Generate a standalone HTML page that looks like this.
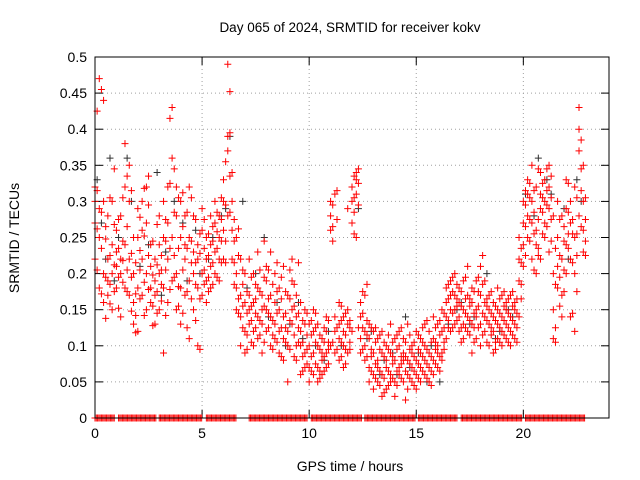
<!DOCTYPE html>
<html>
<head>
<meta charset="utf-8">
<style>
  html,body{margin:0;padding:0;background:#fff;}
  svg{display:block;font-family:"Liberation Sans",sans-serif;}
</style>
</head>
<body>
<svg id="chart" width="640" height="480" viewBox="0 0 640 480">
  <text x="350" y="32" text-anchor="middle" font-size="13.5" fill="#000">Day 065 of 2024, SRMTID for receiver kokv</text>
  <text x="350" y="471" text-anchor="middle" font-size="14" fill="#000">GPS time / hours</text>
  <text transform="translate(19,238) rotate(-90)" text-anchor="middle" font-size="14" fill="#000">SRMTID / TECUs</text>
  <g id="grid"></g>
  <g id="ticks"></g>
  <g id="marks"></g>
  <rect x="95" y="57" width="514" height="361" fill="none" stroke="#000" stroke-width="1"/>
</svg>
<script>
const xTicks = [0, 5, 10, 15, 20];
const yTicks = [0, 0.05, 0.1, 0.15, 0.2, 0.25, 0.3, 0.35, 0.4, 0.45, 0.5];
const yTickLabels = ["0","0.05","0.1","0.15","0.2","0.25","0.3","0.35","0.4","0.45","0.5"];
const redT = [0.0,0.2,0.4,0.6,0.8,1.0,1.2,1.4,1.6,1.8,2.0,2.2,2.4,2.6,2.8,3.0,3.2,3.4,3.6,3.8,4.0,4.2,4.4,4.6,4.8,5.0,5.2,5.4,5.6,5.8,6.0,6.2,6.4,6.6,6.8,7.0,7.2,7.4,7.6,7.8,8.0,8.2,8.4,8.6,8.8,9.0,9.2,9.4,9.6,9.8,10.0,10.2,10.4,10.6,10.8,11.0,11.2,11.4,11.6,11.8,12.0,12.2,12.4,12.6,12.8,13.0,13.2,13.4,13.6,13.8,14.0,14.2,14.4,14.6,14.8,15.0,15.2,15.4,15.6,15.8,16.0,16.2,16.4,16.6,16.8,17.0,17.2,17.4,17.6,17.8,18.0,18.2,18.4,18.6,18.8,19.0,19.2,19.4,19.6,19.8,20.0,20.2,20.4,20.6,20.8,21.0,21.2,21.4,21.6,21.8,22.0,22.2,22.4,22.6,22.8];
const redV = [
[.30,.27,.32,.22],[.25,.18,.29,.47],[.16,.20,.44,.30],[.22,.17,.28,.19],[.24,.20,.15,.30],
[.21,.18,.26,.23],[.20,.22,.14,.28],[.32,.24,.18,.38],[.30,.17,.22,.35],[.16,.13,.20,.25],
[.12,.18,.25,.29],[.22,.30,.17,.26],[.32,.27,.20,.15],[.18,.21,.16,.24],[.19,.13,.22,.17],
[.28,.20,.15,.24],[.30,.25,.09,.18],[.22,.16,.27,.32],[.36,.43,.25,.19],[.20,.32,.15,.28],
[.25,.18,.13,.30],[.22,.17,.28,.24],[.19,.11,.25,.32],[.15,.23,.28,.20],[.10,.18,.24,.22],
[.20,.26,.17,.29],[.22,.16,.25,.19],[.24,.28,.21,.18],[.20,.27,.23,.30],[.25,.19,.28,.22],
[.26,.22,.33,.30],[.49,.39,.37,.28],[.34,.30,.22,.26],[.20,.25,.18,.15],[.14,.10,.22,.17],
[.12,.16,.20,.09],[.17,.13,.22,.15],[.12,.20,.10,.16],[.18,.14,.11,.23],[.13,.17,.09,.15],
[.12,.19,.15,.21],[.10,.14,.17,.23],[.13,.11,.16,.20],[.09,.15,.18,.12],[.14,.11,.21,.08],
[.12,.17,.10,.05],[.15,.19,.13,.22],[.10,.14,.08,.17],[.06,.12,.16,.10],[.13,.09,.07,.15],
[.10,.07,.13,.05],[.09,.12,.06,.15],[.07,.10,.05,.13],[.08,.11,.06,.09],[.12,.09,.07,.14],
[.28,.26,.30,.10],[.31,.14,.12,.09],[.11,.08,.13,.16],[.14,.10,.07,.12],[.13,.29,.09,.15],
[.32,.30,.27,.12],[.34,.31,.33,.25],[.14,.11,.09,.16],[.17,.12,.08,.10],[.11,.13,.07,.05],
[.09,.06,.12,.04],[.08,.05,.11,.07],[.03,.09,.06,.12],[.07,.04,.10,.08],[.05,.09,.13,.06],
[.08,.11,.05,.03],[.07,.10,.06,.12],[.09,.05,.11,.08],[.04,.08,.13,.06],[.07,.10,.05,.09],
[.06,.12,.08,.04],[.09,.07,.11,.05],[.10,.06,.13,.08],[.05,.09,.07,.12],[.08,.11,.06,.14],
[.10,.07,.13,.09],[.12,.09,.15,.08],[.18,.14,.11,.16],[.15,.19,.12,.17],[.13,.17,.20,.15],
[.16,.12,.18,.14],[.11,.15,.19,.13],[.17,.14,.21,.12],[.09,.13,.16,.18],[.14,.11,.19,.15],
[.21,.17,.13,.10],[.16,.12,.19,.14],[.13,.10,.17,.15],[.12,.16,.09,.14],[.15,.11,.13,.18],
[.14,.10,.17,.12],[.11,.15,.13,.16],[.17,.12,.14,.10],[.13,.16,.11,.15],[.22,.19,.25,.14],
[.27,.30,.24,.21],[.28,.33,.25,.31],[.30,.22,.35,.27],[.20,.26,.32,.24],[.29,.34,.31,.22],
[.27,.33,.30,.25],[.32,.35,.29,.23],[.20,.11,.28,.15],[.18,.25,.30,.21],[.17,.22,.28,.14],
[.24,.29,.20,.33],[.27,.22,.14,.30],[.12,.25,.32,.20],[.40,.37,.43,.28],[.26,.23,.30,.35]
];
const redT2 = [0.1,0.3,0.5,0.7,0.9,1.1,1.3,1.5,1.7,1.9,2.1,2.3,2.5,2.7,2.9,3.1,3.3,3.5,3.7,3.9,4.1,4.3,4.5,4.7,4.9,5.1,5.3,5.5,5.7,5.9,6.1,6.3,6.5,6.7,6.9,7.1,7.3,7.5,7.7,7.9,8.1,8.3,8.5,8.7,8.9,9.1,9.3,9.5,9.7,9.9,10.1,10.3,10.5,10.7,10.9,11.1,11.3,11.5,11.7,11.9,12.1,12.3,12.5,12.7,12.9,13.1,13.3,13.5,13.7,13.9,14.1,14.3,14.5,14.7,14.9,15.1,15.3,15.5,15.7,15.9,16.1,16.3,16.5,16.7,16.9,17.1,17.3,17.5,17.7,17.9,18.1,18.3,18.5,18.7,18.9,19.1,19.3,19.5,19.7,19.9,20.1,20.3,20.5,20.7,20.9,21.1,21.3,21.5,21.7,21.9,22.1,22.3,22.5,22.7,22.9];
const redV2 = [
[.315,.262,.205,.425],[.285,.235,.172,.455],[.195,.248,.138,.265],[.225,.185,.305,.158],[.212,.268,.175,.345],
[.195,.235,.152,.275],[.218,.188,.245,.305],[.265,.205,.335,.175],[.148,.228,.195,.315],[.172,.142,.215,.118],
[.205,.165,.278,.232],[.188,.252,.142,.318],[.225,.178,.295,.335],[.155,.198,.245,.128],[.212,.175,.268,.145],
[.185,.225,.162,.205],[.275,.142,.205,.245],[.325,.235,.178,.415],[.285,.225,.195,.345],[.155,.235,.305,.182],
[.205,.145,.265,.312],[.175,.235,.125,.285],[.215,.165,.305,.245],[.185,.275,.135,.215],[.165,.228,.095,.255],
[.235,.185,.275,.205],[.255,.195,.225,.175],[.215,.265,.185,.245],[.235,.285,.195,.258],[.275,.215,.245,.305],
[.295,.245,.215,.355],[.395,.335,.452,.285],[.245,.215,.275,.185],[.165,.225,.145,.262],[.125,.185,.155,.205],
[.145,.115,.175,.095],[.135,.195,.155,.105],[.165,.125,.185,.145],[.135,.205,.115,.175],[.155,.105,.195,.245],
[.165,.125,.205,.145],[.115,.185,.135,.095],[.145,.175,.105,.215],[.125,.165,.085,.195],[.105,.145,.175,.125],
[.135,.095,.165,.205],[.115,.155,.085,.185],[.125,.105,.145,.215],[.085,.135,.105,.065],[.115,.075,.145,.095],
[.085,.115,.135,.065],[.105,.075,.125,.145],[.065,.095,.115,.055],[.085,.065,.125,.105],[.075,.105,.135,.095],
[.265,.295,.245,.105],[.275,.315,.125,.095],[.105,.135,.085,.155],[.115,.095,.145,.075],[.105,.135,.125,.095],
[.285,.305,.255,.335],[.325,.295,.345,.125],[.125,.095,.145,.175],[.135,.085,.115,.185],[.095,.065,.125,.085],
[.075,.105,.055,.125],[.065,.095,.045,.115],[.085,.055,.105,.035],[.095,.065,.045,.115],[.075,.105,.055,.085],
[.065,.095,.115,.045],[.085,.055,.125,.075],[.105,.065,.085,.025],[.075,.115,.055,.095],[.085,.065,.105,.045],
[.075,.095,.055,.115],[.065,.105,.085,.125],[.095,.075,.055,.135],[.085,.105,.065,.045],[.095,.125,.075,.105],
[.085,.115,.135,.065],[.105,.145,.125,.095],[.165,.135,.185,.125],[.145,.175,.125,.195],[.165,.135,.155,.185],
[.125,.155,.175,.105],[.145,.125,.165,.195],[.135,.165,.115,.155],[.125,.175,.145,.105],[.155,.125,.175,.195],
[.145,.185,.115,.225],[.135,.165,.105,.155],[.145,.115,.175,.125],[.105,.135,.155,.095],[.125,.165,.145,.105],
[.135,.115,.155,.175],[.125,.145,.105,.165],[.155,.135,.115,.175],[.145,.125,.165,.105],[.235,.185,.215,.165],
[.265,.295,.225,.315],[.305,.275,.245,.325],[.285,.255,.315,.205],[.225,.275,.345,.235],[.305,.255,.325,.285],
[.295,.315,.265,.345],[.275,.245,.305,.335],[.185,.125,.235,.105],[.225,.275,.195,.155],[.245,.205,.265,.175],
[.285,.235,.255,.325],[.215,.255,.145,.275],[.255,.225,.305,.175],[.345,.385,.265,.315],[.245,.275,.225,.305]
];
const blackT = [0.1,0.5,0.7,1.1,1.5,2.1,2.9,3.3,3.7,4.3,4.7,5.3,5.9,6.3,6.9,7.5,7.9,8.5,9.1,9.7,10.3,10.9,11.5,12.3,12.9,13.5,14.1,14.5,15.1,15.7,16.1,16.5,17.1,17.7,18.3,18.9,19.5,20.1,20.7,21.3,21.9,22.5,22.7,0.3,0.9,1.7,2.5,3.1,4.1,4.9,5.5,6.1,7.1,8.1,8.9,9.5,10.7,12.7,13.3,13.9,14.7,15.5,16.9,17.5,18.7,19.3,20.5,21.1,22.1];
const blackV = [.33,.22,.36,.25,.36,.21,.34,.23,.30,.19,.26,.22,.28,.39,.30,.20,.25,.16,.13,.11,.10,.12,.10,.29,.12,.08,.06,.14,.09,.10,.05,.13,.16,.14,.20,.12,.14,.31,.36,.31,.29,.33,.30,.27,.19,.30,.24,.17,.27,.20,.25,.29,.18,.14,.10,.16,.08,.11,.06,.09,.07,.05,.15,.13,.11,.15,.28,.33,.22];
const zeroRangeStart = [0.0, 1.1, 3.0, 5.2, 7.2, 10.1, 12.6, 15.1, 17.1, 20.1];
const zeroRangeEnd   = [0.95, 2.85, 5.0, 6.6, 9.95, 12.45, 14.95, 16.95, 19.95, 22.9];

const X0 = 95, X1 = 609, Y0 = 418, Y1 = 57;
const xMax = 24, yMax = 0.5;
function xs(t){ return X0 + (X1 - X0) * t / xMax; }
function ys(v){ return Y0 - (Y0 - Y1) * v / yMax; }
const NS = "http://www.w3.org/2000/svg";
const grid = document.getElementById('grid');
const ticks = document.getElementById('ticks');
const marks = document.getElementById('marks');
function mk(tag, attrs, parent){
  const e = document.createElementNS(NS, tag);
  for (const k in attrs) e.setAttribute(k, attrs[k]);
  parent.appendChild(e);
  return e;
}
yTicks.forEach((v, i) => {
  const y = ys(v);
  if (i > 0 && i < yTicks.length - 1) {
    const g = mk('line', {x1:X0, x2:X1, y1:y, y2:y, stroke:'#a0a0a0', 'stroke-width':1, 'stroke-dasharray':'1,3'}, grid);
    
    
  }
  mk('line', {x1:X0, x2:X0+8, y1:y, y2:y, stroke:'#000'}, ticks);
  mk('line', {x1:X1-8, x2:X1, y1:y, y2:y, stroke:'#000'}, ticks);
  const t = mk('text', {x:X0-8, y:y+5, 'text-anchor':'end', 'font-size':14}, ticks);
  t.textContent = yTickLabels[i];
  
  
});
xTicks.forEach(v => {
  const x = xs(v);
  if (v > 0) {
    const g = mk('line', {x1:x, x2:x, y1:Y1, y2:Y0, stroke:'#a0a0a0', 'stroke-width':1, 'stroke-dasharray':'1,3'}, grid);
    
    
  }
  mk('line', {x1:x, x2:x, y1:Y0, y2:Y0-8, stroke:'#000'}, ticks);
  mk('line', {x1:x, x2:x, y1:Y1, y2:Y1+8, stroke:'#000'}, ticks);
  const t = mk('text', {x:x, y:Y0+20, 'text-anchor':'middle', 'font-size':14}, ticks);
  t.textContent = String(v);
  
  
});
function plus(t, v, color, name){
  const x = xs(t), y = ys(v);
  const p = mk('path', {d:`M${x-3.5},${y}H${x+3.5}M${x},${y-3.5}V${y+3.5}`, stroke:color, 'stroke-width':1, fill:'none'}, marks);
  
  
}
zeroRangeStart.forEach((s, i) => {
  for (let t = s; t <= zeroRangeEnd[i] + 1e-9; t += 0.06) plus(t, 0, '#ff0000', 'zero-point');
});
blackT.forEach((t, i) => plus(t, blackV[i], '#303030', 'black-point'));
redT.forEach((t, i) => redV[i].forEach(v => plus(t, v, '#ff0000', 'red-point')));
redT2.forEach((t, i) => redV2[i].forEach(v => plus(t, v, '#ff0000', 'red-point')));
</script>
</body>
</html>
